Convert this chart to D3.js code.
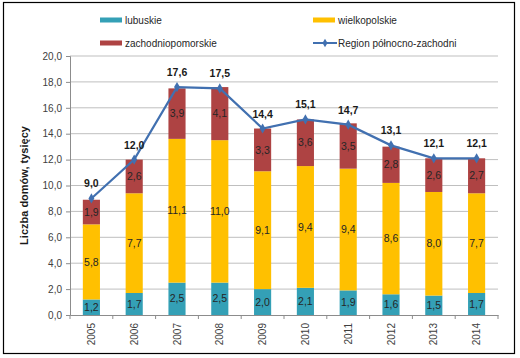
<!DOCTYPE html>
<html><head><meta charset="utf-8">
<script src="https://cdn.jsdelivr.net/npm/d3@7"></script>
<style>body{margin:0;background:#fff;}svg{display:block;font-family:"Liberation Sans",Arial,sans-serif;}</style>
</head><body>
<svg id="c" width="520" height="358"></svg>
<script>
const years = ["2005","2006","2007","2008","2009","2010","2011","2012","2013","2014"];
const lubuskie = [1.2,1.7,2.5,2.5,2.0,2.1,1.9,1.6,1.5,1.7];
const wielkopolskie = [5.8,7.7,11.1,11.0,9.1,9.4,9.4,8.6,8.0,7.7];
const zachodniopomorskie = [1.9,2.6,3.9,4.1,3.3,3.6,3.5,2.8,2.6,2.7];
const region = [9.0,12.0,17.6,17.5,14.4,15.1,14.7,13.1,12.1,12.1];
const yTicks = [0,2,4,6,8,10,12,14,16,18,20];

const colors = {lub:"#34a0b6", wlk:"#ffc000", zach:"#ae4343", line:"#4170b0"};
const svg = d3.select("#c");
const fmt = v => d3.format(".1f")(v).replace(".", ",");

svg.append("rect").attr("x",3.5).attr("y",2.5).attr("width",511).attr("height",351)
  .attr("fill","none").attr("stroke","#000").attr("stroke-width",1.2);

const m = {l:70, r:498, t:56, b:315};
const x = d3.scaleBand().domain(years).range([m.l,m.r]).paddingInner(0.6).paddingOuter(0.3);
const y = d3.scaleLinear().domain([0,20]).range([m.b,m.t]);

// grid
svg.append("g").selectAll("line").data(yTicks.filter(d=>d>0)).join("line")
  .attr("x1",m.l).attr("x2",m.r).attr("y1",d=>y(d)).attr("y2",d=>y(d))
  .attr("stroke","#bfbfbf").attr("stroke-width",1);

// y axis
const ya = svg.append("g").attr("transform",`translate(${m.l},0)`)
  .call(d3.axisLeft(y).tickValues(yTicks).tickFormat(fmt).tickSize(4).tickPadding(4));
ya.select(".domain").attr("stroke","#8c8c8c");
ya.selectAll(".tick line").attr("stroke","#8c8c8c");
ya.selectAll("text").attr("fill","#404040").style("font-size","10px");

// x axis
const xa = svg.append("g").attr("transform",`translate(0,${m.b})`)
  .call(d3.axisBottom(x).tickSize(0).tickPadding(6));
xa.select(".domain").attr("stroke","#8c8c8c");
xa.selectAll("text").attr("fill","#404040").style("font-size","10px")
  .attr("text-anchor","end").attr("dx","0").attr("dy","0.35em")
  .attr("x",0).attr("y",0)
  .attr("transform", "translate(0,8) rotate(-90)");
// band boundary ticks
const step = x.step();
const bounds = years.map((d,i)=> x(d) - x.paddingInner()*step/2).concat([x(years[9]) + x.bandwidth() + x.paddingInner()*step/2]);
svg.append("g").selectAll("line").data(bounds).join("line")
  .attr("x1",d=>d).attr("x2",d=>d).attr("y1",m.b).attr("y2",m.b+4).attr("stroke","#8c8c8c");

// stacked bars
const series = [
  {key:"lub", vals:lubuskie},
  {key:"wlk", vals:wielkopolskie},
  {key:"zach", vals:zachodniopomorskie}
];
const bars = svg.append("g");
years.forEach((yr,i)=>{
  let base = 0;
  series.forEach(s=>{
    const v = s.vals[i];
    bars.append("rect").attr("x",x(yr)).attr("width",x.bandwidth())
      .attr("y",y(base+v)).attr("height",y(base)-y(base+v)).attr("fill",colors[s.key]);
    bars.append("text").attr("x",x(yr)+x.bandwidth()/2).attr("y",y(base+v/2)).attr("dy","0.35em")
      .attr("text-anchor","middle").style("font-size","10.5px").attr("fill","#262626").text(fmt(v));
    base += v;
  });
});

// line
const cx = d => x(d)+x.bandwidth()/2;
svg.append("path").datum(region)
  .attr("d", d3.line().x((d,i)=>cx(years[i])).y(d=>y(d)))
  .attr("fill","none").attr("stroke",colors.line).attr("stroke-width",2.2);
svg.append("g").selectAll("path").data(region).join("path")
  .attr("d", d3.symbol().type(d3.symbolDiamond).size(30))
  .attr("transform",(d,i)=>`translate(${cx(years[i])},${y(d)})`).attr("fill",colors.line);
svg.append("g").selectAll("text").data(region).join("text")
  .attr("x",(d,i)=>cx(years[i])).attr("y",d=>y(d)-11).attr("text-anchor","middle")
  .style("font-size","10.5px").style("font-weight","bold").attr("fill","#1a1a1a").text(fmt);

// y title
svg.append("text").attr("transform",`translate(28,${(m.t+m.b)/2}) rotate(-90)`)
  .attr("text-anchor","middle").style("font-size","11px").style("font-weight","bold").attr("fill","#1a1a1a")
  .text("Liczba domów, tysięcy");

// legend
const lg = svg.append("g").style("font-size","10px").attr("fill","#262626");
const items = [
  {x:100, y:20, t:"lubuskie", c:colors.lub, type:"rect"},
  {x:313, y:20, t:"wielkopolskie", c:colors.wlk, type:"rect"},
  {x:100, y:43, t:"zachodniopomorskie", c:colors.zach, type:"rect"},
  {x:313, y:43, t:"Region północno-zachodni", c:colors.line, type:"line"}
];
items.forEach(it=>{
  if(it.type==="rect"){
    lg.append("rect").attr("x",it.x).attr("y",it.y-2.5).attr("width",22).attr("height",5).attr("fill",it.c);
  } else {
    lg.append("line").attr("x1",it.x).attr("x2",it.x+24).attr("y1",it.y).attr("y2",it.y).attr("stroke",it.c).attr("stroke-width",2);
    lg.append("path").attr("d",d3.symbol().type(d3.symbolDiamond).size(22)).attr("transform",`translate(${it.x+12},${it.y})`).attr("fill",it.c);
  }
  lg.append("text").attr("x",it.x+25).attr("y",it.y).attr("dy","0.35em").text(it.t);
});
</script>
</body></html>
